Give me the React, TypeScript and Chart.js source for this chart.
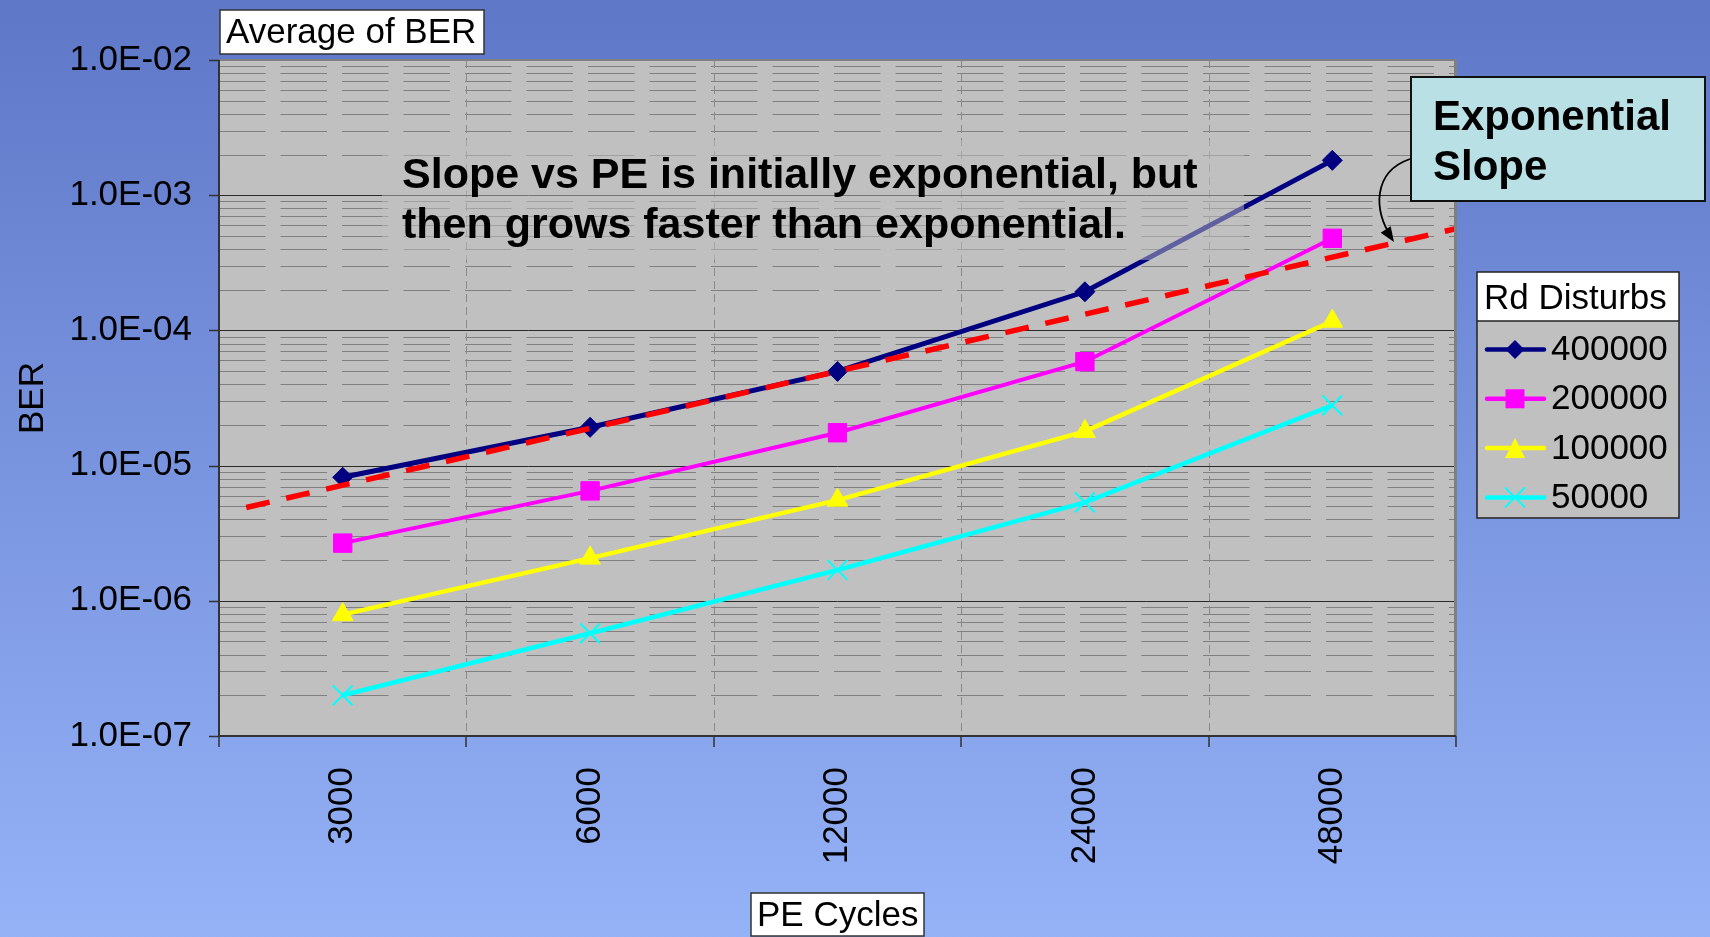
import React, { useEffect, useRef } from 'react';
import { Chart, registerables } from 'chart.js';

Chart.register(...registerables);

const FONT = '"Liberation Sans", Arial, Helvetica, sans-serif';

// ---- data ----
const peCycles = ['3000', '6000', '12000', '24000', '48000'];
const rd400000 = [8.2e-6, 1.92e-5, 4.97e-5, 1.93e-4, 1.81e-3];
const rd200000 = [2.67e-6, 6.5e-6, 1.75e-5, 5.87e-5, 4.8e-4];
const rd100000 = [7.9e-7, 2.07e-6, 5.55e-6, 1.79e-5, 1.17e-4];
const rd50000 = [2.0e-7, 5.75e-7, 1.69e-6, 5.35e-6, 2.79e-5];
// exponential trend line (category-index position, BER)
const trendX = [-0.39, 4.5];
const trendY = [4.9e-6, 5.65e-4];
const yTickValues = [1e-7, 1e-6, 1e-5, 1e-4, 1e-3, 1e-2];
const yTickLabels = ['1.0E-07', '1.0E-06', '1.0E-05', '1.0E-04', '1.0E-03', '1.0E-02'];
const seriesNames = ['400000', '200000', '100000', '50000'];
const seriesColors = ['#000080', '#ff00ff', '#ffff00', '#00ffff'];
const seriesStyles = ['rectRot', 'rect', 'triangle', 'crossRot'];

function drawMarker(ctx: CanvasRenderingContext2D, style: string, cx: number, cy: number, color: string) {
  ctx.save();
  ctx.fillStyle = color;
  ctx.strokeStyle = color;
  ctx.setLineDash([]);
  ctx.beginPath();
  if (style === 'rectRot') {
    const r = 9.5;
    ctx.moveTo(cx, cy - r);
    ctx.lineTo(cx + r, cy);
    ctx.lineTo(cx, cy + r);
    ctx.lineTo(cx - r, cy);
    ctx.closePath();
    ctx.fill();
  } else if (style === 'rect') {
    ctx.fillRect(cx - 9.5, cy - 9.5, 19, 19);
  } else if (style === 'triangle') {
    ctx.moveTo(cx, cy - 10);
    ctx.lineTo(cx + 10, cy + 10);
    ctx.lineTo(cx - 10, cy + 10);
    ctx.closePath();
    ctx.fill();
  } else {
    ctx.lineWidth = 2;
    ctx.moveTo(cx - 10, cy - 10);
    ctx.lineTo(cx + 10, cy + 10);
    ctx.moveTo(cx + 10, cy - 10);
    ctx.lineTo(cx - 10, cy + 10);
    ctx.stroke();
  }
  ctx.restore();
}

const decorPlugin = {
  id: 'decor',
  beforeDraw(chart: any) {
    const ctx: CanvasRenderingContext2D = chart.ctx;
    const ca = chart.chartArea;
    const ys = chart.scales.y;
    const xt = chart.scales.xt;
    ctx.save();
    const g = ctx.createLinearGradient(0, 0, 0, chart.height);
    g.addColorStop(0, '#5e77c7');
    g.addColorStop(1, '#95b2f7');
    ctx.fillStyle = g;
    ctx.fillRect(0, 0, chart.width, chart.height);
    ctx.fillStyle = '#c0c0c0';
    ctx.fillRect(ca.left, ca.top, ca.right - ca.left, ca.bottom - ca.top);

    // minor horizontal gridlines
    ctx.strokeStyle = '#808080';
    ctx.lineWidth = 1;
    ctx.setLineDash([46.5, 15]);
    for (let i = 0; i < yTickValues.length - 1; i++) {
      for (let m = 2; m <= 9; m++) {
        const py = Math.round(ys.getPixelForValue(yTickValues[i] * m)) + 0.5;
        ctx.beginPath();
        ctx.moveTo(ca.left, py);
        ctx.lineTo(ca.right, py);
        ctx.stroke();
      }
    }
    // vertical dashed gridlines
    ctx.strokeStyle = '#8a8a8a';
    ctx.setLineDash([8, 5]);
    for (let i = 0; i < peCycles.length - 1; i++) {
      const px = Math.round(xt.getPixelForValue(i + 0.5)) + 0.5;
      ctx.beginPath();
      ctx.moveTo(px, ca.top);
      ctx.lineTo(px, ca.bottom);
      ctx.stroke();
    }
    // major gridlines
    ctx.setLineDash([]);
    ctx.strokeStyle = '#2a2a2a';
    for (let i = 1; i < yTickValues.length - 1; i++) {
      const py = Math.round(ys.getPixelForValue(yTickValues[i])) + 0.5;
      ctx.beginPath();
      ctx.moveTo(ca.left, py);
      ctx.lineTo(ca.right, py);
      ctx.stroke();
    }
    ctx.restore();
  },
  afterDraw(chart: any) {
    const ctx: CanvasRenderingContext2D = chart.ctx;
    const ca = chart.chartArea;
    const ys = chart.scales.y;
    const xt = chart.scales.xt;
    ctx.save();
    ctx.setLineDash([]);

    // semi-transparent text box
    ctx.fillStyle = 'rgba(192,192,192,0.5)';
    ctx.fillRect(382, 140, 862, 120);
    ctx.fillStyle = '#000';
    ctx.font = `bold 43px ${FONT}`;
    ctx.textAlign = 'left';
    ctx.textBaseline = 'alphabetic';
    ctx.fillText('Slope vs PE is initially exponential, but', 402, 188);
    ctx.fillText('then grows faster than exponential.', 402, 238);

    // plot border top/right
    ctx.strokeStyle = '#808080';
    ctx.lineWidth = 2;
    ctx.beginPath();
    ctx.moveTo(ca.left, ca.top);
    ctx.lineTo(ca.right, ca.top);
    ctx.stroke();
    ctx.lineWidth = 3;
    ctx.beginPath();
    ctx.moveTo(ca.right - 0.5, ca.top);
    ctx.lineTo(ca.right - 0.5, ca.bottom);
    ctx.stroke();

    // axes
    ctx.strokeStyle = '#333';
    ctx.lineWidth = 2;
    ctx.beginPath();
    ctx.moveTo(ca.left, ca.top);
    ctx.lineTo(ca.left, ca.bottom);
    ctx.moveTo(ca.left, ca.bottom);
    ctx.lineTo(ca.right, ca.bottom);
    ctx.stroke();
    ctx.lineWidth = 1.5;
    ctx.beginPath();
    for (const v of yTickValues) {
      const py = Math.round(ys.getPixelForValue(v)) + 0.5;
      ctx.moveTo(ca.left - 10, py);
      ctx.lineTo(ca.left, py);
    }
    for (let i = 0; i <= peCycles.length; i++) {
      const px = Math.round(xt.getPixelForValue(i - 0.5));
      ctx.moveTo(px, ca.bottom);
      ctx.lineTo(px, ca.bottom + 11);
    }
    ctx.stroke();

    // "Average of BER" field box
    ctx.fillStyle = '#fff';
    ctx.fillRect(220, 10, 264, 44);
    ctx.strokeStyle = '#333';
    ctx.lineWidth = 1.5;
    ctx.strokeRect(220, 10, 264, 44);
    ctx.fillStyle = '#000';
    ctx.font = `35px ${FONT}`;
    ctx.fillText('Average of BER', 226, 43);

    // "PE Cycles" field box
    ctx.fillStyle = '#fff';
    ctx.fillRect(751, 893, 173, 43);
    ctx.strokeRect(751, 893, 173, 43);
    ctx.fillStyle = '#000';
    ctx.fillText('PE Cycles', 757, 926);

    // BER axis title
    ctx.save();
    ctx.translate(33, (ca.top + ca.bottom) / 2);
    ctx.rotate(-Math.PI / 2);
    ctx.textAlign = 'center';
    ctx.textBaseline = 'middle';
    ctx.fillText('BER', 0, 0);
    ctx.restore();

    // Exponential Slope callout
    ctx.fillStyle = '#b9e0e4';
    ctx.fillRect(1411, 77, 294, 124);
    ctx.strokeStyle = '#111';
    ctx.lineWidth = 2;
    ctx.strokeRect(1411, 77, 294, 124);
    ctx.fillStyle = '#000';
    ctx.font = `bold 42px ${FONT}`;
    ctx.fillText('Exponential', 1433, 130);
    ctx.fillText('Slope', 1433, 180);

    // curved arrow
    const p0 = [1410, 159], p1 = [1372, 172], p2 = [1374, 212], p3 = [1394, 242];
    ctx.strokeStyle = '#000';
    ctx.lineWidth = 1.8;
    ctx.beginPath();
    ctx.moveTo(p0[0], p0[1]);
    ctx.bezierCurveTo(p1[0], p1[1], p2[0], p2[1], p3[0] - 3, p3[1] - 6);
    ctx.stroke();
    const ang = Math.atan2(p3[1] - p2[1], p3[0] - p2[0]);
    const hl = 15, hw = 6;
    ctx.beginPath();
    ctx.moveTo(p3[0], p3[1]);
    ctx.lineTo(p3[0] - hl * Math.cos(ang) + hw * Math.sin(ang), p3[1] - hl * Math.sin(ang) - hw * Math.cos(ang));
    ctx.lineTo(p3[0] - hl * Math.cos(ang) - hw * Math.sin(ang), p3[1] - hl * Math.sin(ang) + hw * Math.cos(ang));
    ctx.closePath();
    ctx.fill();

    // legend
    const lx = 1477, ly = 272, lw = 202, lh = 246, hh = 49;
    ctx.fillStyle = '#c0c0c0';
    ctx.fillRect(lx, ly, lw, lh);
    ctx.fillStyle = '#fff';
    ctx.fillRect(lx, ly, lw, hh);
    ctx.strokeStyle = '#222';
    ctx.lineWidth = 1.5;
    ctx.strokeRect(lx, ly, lw, lh);
    ctx.beginPath();
    ctx.moveTo(lx, ly + hh);
    ctx.lineTo(lx + lw, ly + hh);
    ctx.stroke();
    ctx.fillStyle = '#000';
    ctx.font = `35px ${FONT}`;
    ctx.textBaseline = 'alphabetic';
    ctx.fillText('Rd Disturbs', 1484, 309);
    ctx.textBaseline = 'middle';
    for (let i = 0; i < seriesNames.length; i++) {
      const cy = 349.5 + i * 49.3;
      ctx.strokeStyle = seriesColors[i];
      ctx.lineWidth = 4.5;
      ctx.lineCap = 'round';
      ctx.beginPath();
      ctx.moveTo(1487, cy);
      ctx.lineTo(1544, cy);
      ctx.stroke();
      ctx.lineCap = 'butt';
      drawMarker(ctx, seriesStyles[i], 1515, cy, seriesColors[i]);
      ctx.fillStyle = '#000';
      ctx.fillText(seriesNames[i], 1551, cy + 1);
    }
    ctx.restore();
  },
};

export default function App() {
  const ref = useRef<HTMLCanvasElement>(null);
  useEffect(() => {
    document.body.style.margin = '0';
    Chart.defaults.font.family = FONT;
    Chart.defaults.color = '#000';
    const seriesData = [rd400000, rd200000, rd100000, rd50000];
    const widths = [5, 4, 4.5, 4.5];
    const radii = [10, 13, 12, 14];
    const chart = new Chart(ref.current as HTMLCanvasElement, {
      type: 'line',
      data: {
        labels: peCycles,
        datasets: [
          {
            label: 'Exponential',
            data: trendX.map((x, i) => ({ x, y: trendY[i] })),
            xAxisID: 'xt',
            borderColor: '#ff0000',
            borderWidth: 5.5,
            borderDash: [24, 17],
            pointRadius: 0,
            fill: false,
            tension: 0,
            order: 0,
          } as any,
          ...seriesNames.map((name, i) => ({
            label: name,
            data: seriesData[i],
            xAxisID: 'x',
            borderColor: seriesColors[i],
            backgroundColor: seriesColors[i],
            pointBackgroundColor: seriesColors[i],
            pointBorderColor: seriesColors[i],
            borderWidth: widths[i],
            pointStyle: seriesStyles[i],
            pointRadius: radii[i],
            pointBorderWidth: i === 3 ? 2 : 1,
            fill: false,
            tension: 0,
            order: i + 1,
          })),
        ],
      },
      options: {
        responsive: false,
        animation: false,
        events: [],
        layout: { padding: { left: 0, top: 60, right: 254, bottom: 0 } },
        plugins: { legend: { display: false }, tooltip: { enabled: false }, title: { display: false } },
        scales: {
          x: {
            type: 'category',
            offset: true,
            grid: { display: false, drawTicks: false },
            border: { display: false },
            ticks: {
              font: { size: 35, family: FONT },
              color: '#000',
              minRotation: 90,
              maxRotation: 90,
              padding: 31,
              autoSkip: false,
            },
            afterFit: (s: any) => {
              s.height = 201;
            },
          },
          xt: {
            type: 'linear',
            display: false,
            min: -0.5,
            max: 4.5,
          },
          y: {
            type: 'logarithmic',
            min: 1e-7,
            max: 1e-2,
            grid: { display: false, drawTicks: false },
            border: { display: false },
            afterBuildTicks: (s: any) => {
              s.ticks = yTickValues.map((v) => ({ value: v, major: true }));
            },
            ticks: {
              font: { size: 35, family: FONT },
              color: '#000',
              padding: 27,
              autoSkip: false,
              callback: (_v: any, i: number) => yTickLabels[i],
            },
            afterFit: (s: any) => {
              s.width = 219;
            },
          },
        },
      },
      plugins: [decorPlugin],
    } as any);
    return () => chart.destroy();
  }, []);
  return (
    <div style={{ position: 'fixed', left: 0, top: 0, width: 1710, height: 937 }}>
      <canvas ref={ref} width={1710} height={937} style={{ width: 1710, height: 937, display: 'block' }} />
    </div>
  );
}
